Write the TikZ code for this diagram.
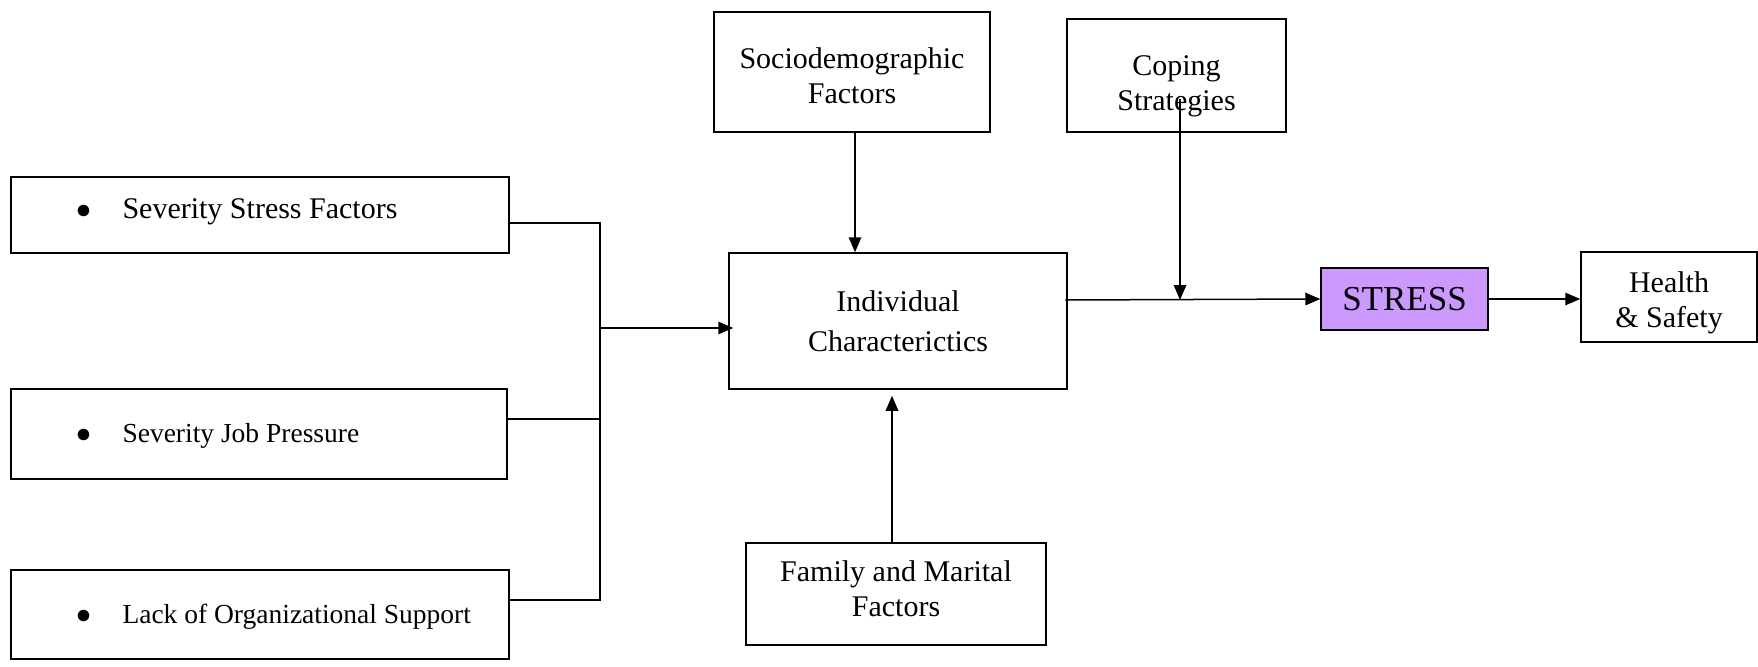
\documentclass[tikz,border=0pt]{standalone}
\usepackage{fontspec}
\setmainfont{Liberation Serif}
\usetikzlibrary{arrows.meta}
\definecolor{stressfill}{HTML}{CC99FF}
\begin{document}
\begin{tikzpicture}[x=0.4pt,y=-0.4pt,
  box/.style={draw, line width=0.6pt, inner sep=0pt, align=center, font=\fontsize{12}{14}\selectfont},
  txt/.style={inner sep=0pt, align=center, font=\fontsize{12}{14}\selectfont},
  lbl/.style={anchor=base west, inner sep=0pt},
  arr/.style={line width=0.6pt, -{Triangle[length=6pt,width=5pt]}},
  ln/.style={line width=0.6pt}]
\useasboundingbox (0,0) rectangle (1758,666);
% left boxes
\node[box, minimum width=498*0.4pt, minimum height=76*0.4pt] (b1) at (260,215) {};
\node[box, minimum width=496*0.4pt, minimum height=90*0.4pt] (b2) at (259,434) {};
\node[box, minimum width=498*0.4pt, minimum height=89*0.4pt] (b3) at (260,614.5) {};
\node[lbl, font=\fontsize{12}{14}\selectfont] (u1) at (75.5,218) {$\bullet$};
\node[lbl, font=\fontsize{12}{14}\selectfont] (t1) at (122,218) {Severity Stress Factors};
\node[lbl, font=\fontsize{12}{13}\selectfont] (u2) at (75.5,442) {$\bullet$};
\node[lbl, font=\fontsize{11}{13}\selectfont] (t2) at (122,442) {Severity Job Pressure};
\node[lbl, font=\fontsize{12}{13}\selectfont] (u3) at (75.5,623) {$\bullet$};
\node[lbl, font=\fontsize{11}{13}\selectfont] (t3) at (122,623) {Lack of Organizational Support};
% centre boxes
\node[box, minimum width=338*0.4pt, minimum height=136*0.4pt, font=\fontsize{12}{16}\selectfont] (ind) at (898,321) {Individual\\Characterictics};
\node[box, minimum width=276*0.4pt, minimum height=120*0.4pt] (soc) at (852,72) {};
\node[txt] (soct) at ([yshift=-1.4pt]soc.center) {Sociodemographic\\Factors};
\node[box, minimum width=219*0.4pt, minimum height=113*0.4pt] (cop) at (1176.5,75.5) {};
\node[txt] (copt) at ([yshift=-4.4pt]cop.center) {Coping\\Strategies};
\node[box, minimum width=300*0.4pt, minimum height=102*0.4pt] (fam) at (896,594) {};
\node[txt] (famt) at ([yshift=2.2pt]fam.center) {Family and Marital\\Factors};
\node[box, fill=stressfill, minimum width=167*0.4pt, minimum height=62*0.4pt, font=\fontsize{14}{16}\selectfont] (str) at (1404.5,299) {STRESS};
\node[box, minimum width=176*0.4pt, minimum height=90*0.4pt] (hs) at (1669,297) {};
\node[txt] (hst) at ([yshift=-2.2pt]hs.center) {Health\\\& Safety};
% bracket
\coordinate (j1) at (600,223);
\coordinate (j2) at (600,419);
\coordinate (j3) at (600,600);
\coordinate (jm) at (600,328);
\draw[ln] (b1.east |- j1) -- (j1) -- (j3) -- (b3.east |- j3);
\draw[ln] (b2.east |- j2) -- (j2);
\draw[arr] (jm) -- ([xshift=2pt]ind.west |- jm);
% arrows
\draw[arr] ([xshift=1.2pt]soc.south) -- ([xshift=1.2pt]soc.south |- ind.north);
\draw[arr, shorten >=2.4pt] ([xshift=-1.6pt]fam.north) -- ([xshift=-1.6pt]fam.north |- ind.south);
\coordinate (cs) at (1180,99);
\coordinate (cj) at (1180,300);
\draw[arr] (cs) -- (cj);
\draw[arr] ([xshift=-1pt]ind.east |- cj) -- (str.west);
\draw[arr] (str.east) -- (hs.west |- str.east);
\end{tikzpicture}
\end{document}
